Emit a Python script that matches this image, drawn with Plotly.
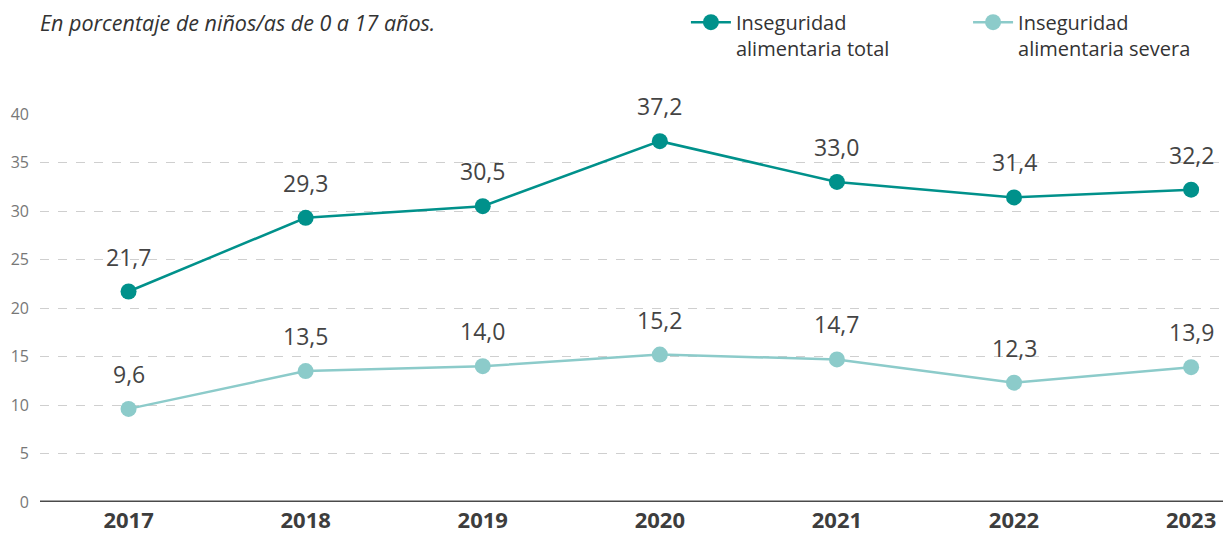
import plotly.graph_objects as go

years = [2017, 2018, 2019, 2020, 2021, 2022, 2023]
total = [21.7, 29.3, 30.5, 37.2, 33.0, 31.4, 32.2]
severa = [9.6, 13.5, 14.0, 15.2, 14.7, 12.3, 13.9]
y_ticks = [0, 5, 10, 15, 20, 25, 30, 35, 40]
name_total = "Inseguridad<br>alimentaria total"
name_severa = "Inseguridad<br>alimentaria severa"
subtitle = "En porcentaje de niños/as de 0 a 17 años."

C_TOTAL = "#00918b"
C_SEV = "#8ccbca"
FONT = "Open Sans"

fig = go.Figure()
fig.add_trace(go.Scatter(x=years, y=total, mode="lines+markers", name=name_total,
                         line=dict(color=C_TOTAL, width=2.5), legend="legend",
                         marker=dict(color=C_TOTAL, size=16), cliponaxis=False))
fig.add_trace(go.Scatter(x=years, y=severa, mode="lines+markers", name=name_severa,
                         line=dict(color=C_SEV, width=2.5), legend="legend2",
                         marker=dict(color=C_SEV, size=16), cliponaxis=False))

def fmt(v):
    return f"{v:.1f}".replace(".", ",")

for series in (total, severa):
    for x, v in zip(years, series):
        fig.add_annotation(x=x, y=v, text=fmt(v), showarrow=False, yshift=35,
                           font=dict(family=FONT, size=23, color="#444444"))

fig.add_annotation(xref="paper", yref="paper", x=0, y=1, xanchor="left", yanchor="middle",
                   xshift=-2, yshift=92, text=f"<i>{subtitle}</i>", showarrow=False,
                   font=dict(family=FONT, size=21.5, color="#333333"))

leg_common = dict(orientation="v", y=0.995, xanchor="left", yanchor="top",
                  yref="container", font=dict(family=FONT, size=20, color="#333333"),
                  itemwidth=40, valign="top", bgcolor="rgba(0,0,0,0)")

fig.update_layout(
    width=1223, height=535,
    margin=dict(l=40, r=0, t=114, b=33),
    plot_bgcolor="white", paper_bgcolor="white",
    font=dict(family=FONT),
    showlegend=True,
    legend=dict(x=0.546, **leg_common),
    legend2=dict(x=0.7845, **leg_common),
    xaxis=dict(range=[2016.5, 2023.18], tickvals=years, ticktext=[str(y) for y in years],
               showgrid=False, zeroline=False, showline=False, ticks="",
               ticklabelstandoff=3, automargin=False,
               tickfont=dict(family=FONT, size=22, color="#3d3d3d", weight="bold")),
    yaxis=dict(range=[0, 40], tickvals=y_ticks, showgrid=True, gridcolor="#cfcfcf",
               griddash="dash", gridwidth=1.2, zeroline=False, showline=False, ticks="",
               automargin=False,
               tickfont=dict(family=FONT, size=16, color="#777777"), ticklabelstandoff=10),
)
fig.add_shape(type="line", xref="paper", yref="y", x0=0, x1=1, y0=0, y1=0,
              line=dict(color="#4a4a4a", width=3))
fig.write_html("out.html", post_script="document.body.style.margin='0';",
               config={"displayModeBar": False})
